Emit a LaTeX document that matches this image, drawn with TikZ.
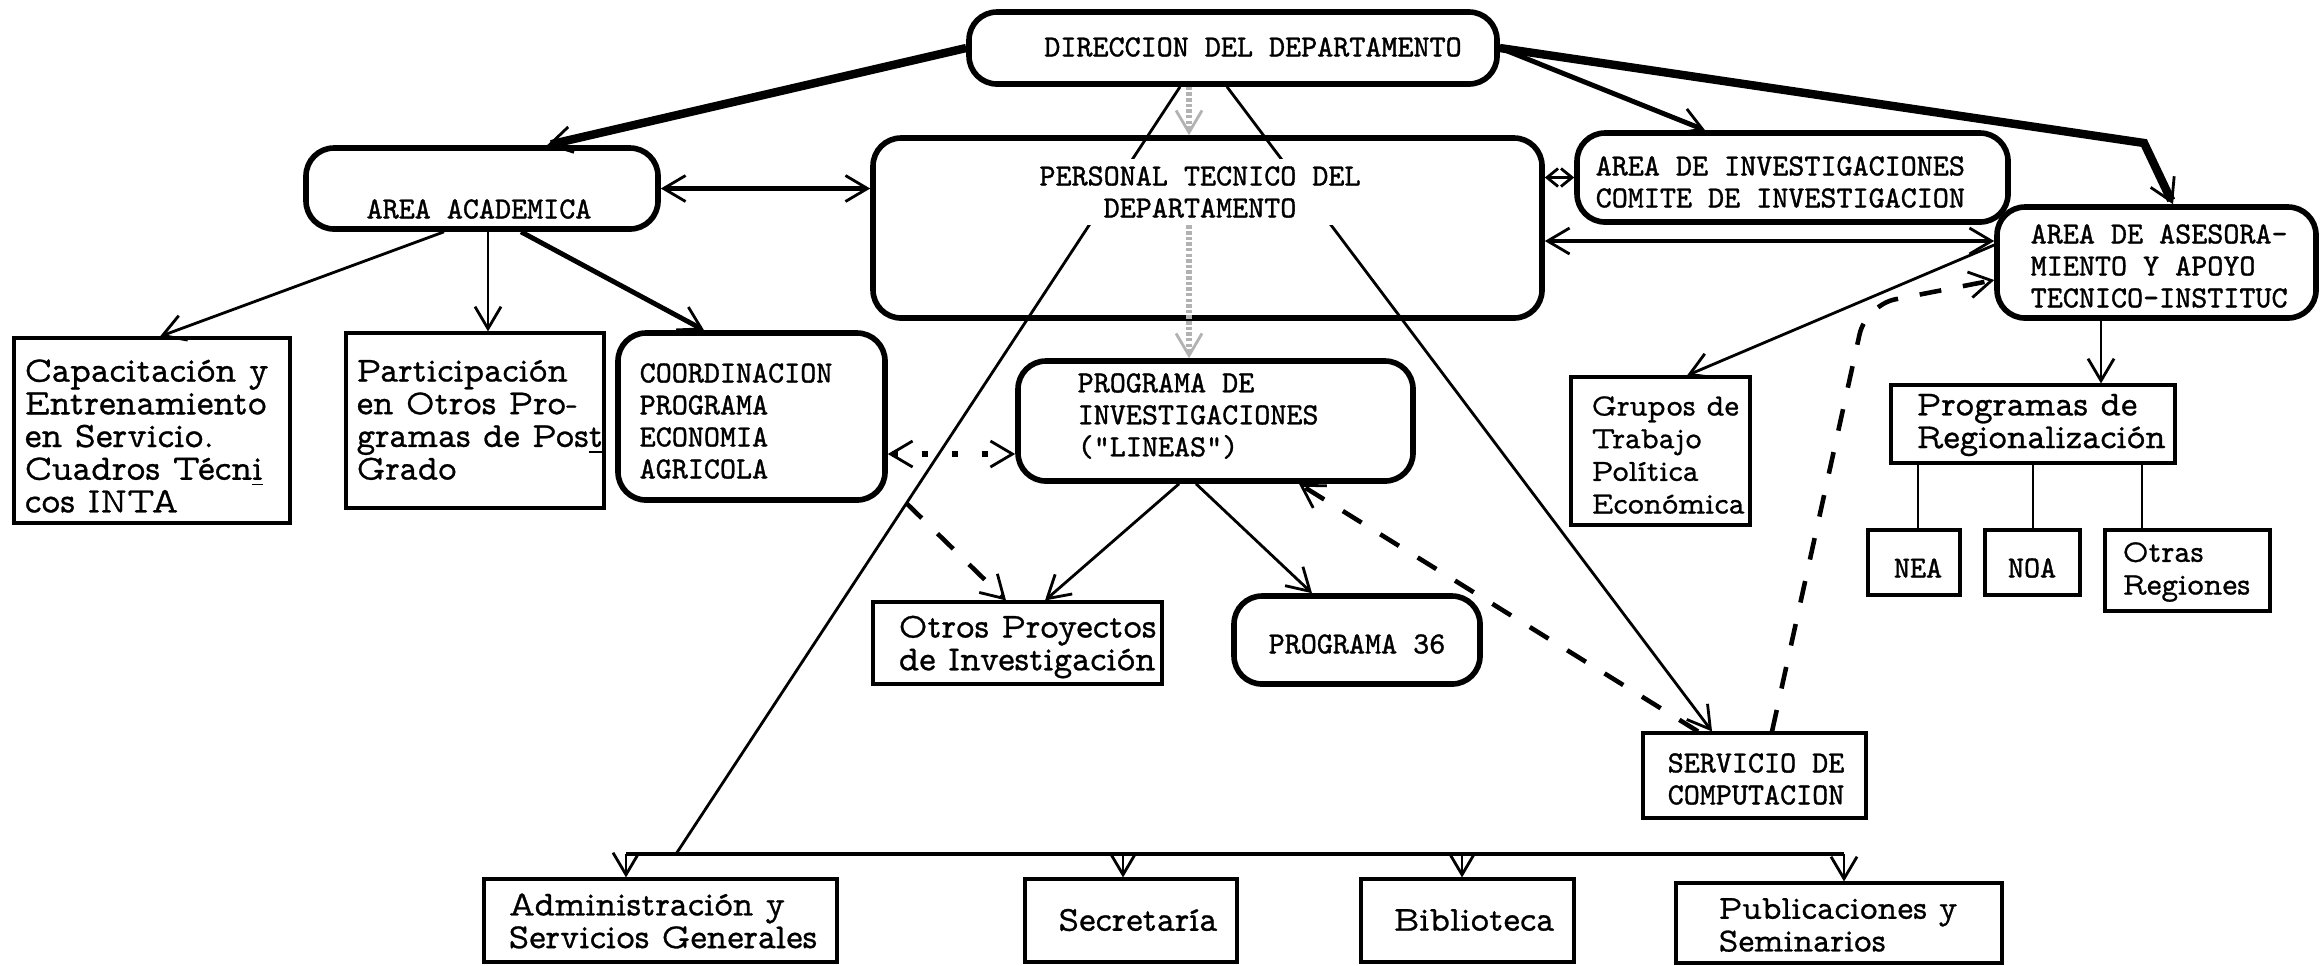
\documentclass[tikz,border=0pt]{standalone}
\usepackage{fontspec}
\newfontfamily\tw{lmmonoprop10-regular}[Extension=.otf, FakeBold=0.8]
\newfontfamily\tm{lmmono10-regular}[Extension=.otf, FakeBold=1.2]
\usetikzlibrary{arrows.meta,fit}
\begin{document}
\begin{tikzpicture}[x=0.1mm,y=-0.1mm,
  rbox/.style={draw, line width=1.6pt, rounded corners=2.8mm, inner sep=0pt},
  sbox/.style={draw, line width=0.9pt, inner sep=0pt},
  upt/.style={font=\fontsize{8.7pt}{9.1pt}\selectfont\tm, inner sep=0pt, align=left},
  lot/.style={font=\fontsize{#1}{9.3pt}\selectfont\tw, inner sep=0pt, align=left},
  lot/.default=10pt,
  tip/.style={-{Straight Barb[length=2.2mm,width=2.6mm,line width=0.8pt]}},
  dtip/.style={{Straight Barb[length=2.2mm,width=2.6mm,line width=0.8pt]}-{Straight Barb[length=2.2mm,width=2.6mm,line width=0.8pt]}},
  stip/.style={{Straight Barb[length=1.1mm,width=1.8mm,line width=0.8pt]}-{Straight Barb[length=1.1mm,width=1.8mm,line width=0.8pt]}},
  thinln/.style={line width=0.8pt},
  midln/.style={line width=1.4pt},
  heavyln/.style={line width=2.4pt},
  dashln/.style={line width=1.3pt, dash pattern=on 2.2mm off 2.2mm},
  dotln/.style={line width=1.5pt, dash pattern=on 0.6mm off 2.4mm},
  grayln/.style={draw=gray!60, line width=1.6pt, dash pattern=on 1pt off 0.6pt},
]
\useasboundingbox (0,0) rectangle (2320,965);
\fill[white] (0,0) rectangle (2320,965);

% ---------- boxes ----------
\node[rbox, fit={(969,12) (1497,84)}] (dir) {};
\node[rbox, fit={(873,138) (1542,318)}] (pers) {};
\node[rbox, fit={(306,148) (658,229)}] (acad) {};
\node[rbox, fit={(1577,133) (2008,222)}] (ainv) {};
\node[rbox, fit={(1997,207) (2316,318)}] (ases) {};
\node[rbox, fit={(618,333) (885,500)}] (coord) {};
\node[rbox, fit={(1018,361) (1413,481)}] (prog) {};
\node[rbox, fit={(1234,596) (1480,684)}] (p36) {};

\node[sbox, fit={(14,338) (290,523)}] (cap) {};
\node[sbox, fit={(346,333) (604,508)}] (part) {};
\node[sbox, fit={(873,602) (1162,684)}] (otros) {};
\node[sbox, fit={(1571,377) (1750,525)}] (grupos) {};
\node[sbox, fit={(1891,385) (2175,463)}] (reg) {};
\node[sbox, fit={(1868,530) (1960,595)}] (nea) {};
\node[sbox, fit={(1985,530) (2080,595)}] (noa) {};
\node[sbox, fit={(2105,530) (2270,611)}] (otras) {};
\node[sbox, fit={(1643,733) (1866,818)}] (serv) {};
\node[sbox, fit={(484,879) (837,962)}] (adm) {};
\node[sbox, fit={(1025,879) (1237,962)}] (secr) {};
\node[sbox, fit={(1361,879) (1574,962)}] (bibl) {};
\node[sbox, fit={(1676,883) (2002,963)}] (publ) {};

% ---------- coordinates ----------
\coordinate (busL) at (626,854);
\coordinate (busJ) at (676,854);
\coordinate (busS) at (1123,854);
\coordinate (busB) at (1462,854);
\coordinate (busR) at (1844,854);
\coordinate (bend1) at (2144,143);
\coordinate (bend2) at (1866,305);

% ---------- connectors behind text ----------
\draw[thinln] (dir.south -| 1180,0) -- (busJ);
\draw[thinln, tip] (dir.south -| 1227,0) -- (serv.north -| 1712,0);

% ---------- texts ----------
\node[upt] (dirt) at (1253,47) {DIRECCION DEL DEPARTAMENTO};
\node[upt, align=center, fill=white, inner sep=2pt] (perst) at (1200,192) {PERSONAL TECNICO DEL\\DEPARTAMENTO};
\node[upt] (acadt) at (479,209) {AREA ACADEMICA};
\node[upt, anchor=west] (ainvt) at (1595,182) {AREA DE INVESTIGACIONES\\COMITE DE INVESTIGACION};
\node[upt, anchor=west] (asest) at (2030,266) {AREA DE ASESORA-\\MIENTO Y APOYO\\TECNICO-INSTITUC};
\node[lot=10.2pt, anchor=west] (capt) at (24,436) {Capacitación y\\Entrenamiento\\en Servicio.\\Cuadros Técn\underline{i}\\cos INTA};
\node[lot, anchor=west] (partt) at (356,420) {Participación\\en Otros Pro-\\gramas de Pos\underline{t}\\Grado};
\node[upt, anchor=west] (coordt) at (639,421) {COORDINACION\\PROGRAMA\\ECONOMIA\\AGRICOLA};
\node[upt, anchor=west] (progt) at (1077,416) {PROGRAMA DE\\INVESTIGACIONES\\("LINEAS")};
\node[lot, anchor=west] (otrost) at (898,647) {Otros Proyectos\\de Investigación};
\node[upt] (p36t) at (1357,644) {PROGRAMA 36};
\node[lot=8.8pt, anchor=west] (grupost) at (1591,455) {Grupos de\\Trabajo\\Política\\Económica};
\node[lot, anchor=west] (regt) at (1916,425) {Programas de\\Regionalización};
\node[upt] (neat) at (1918,568) {NEA};
\node[upt] (noat) at (2032,568) {NOA};
\node[lot=9pt, anchor=west] (otrast) at (2122,572) {Otras\\Regiones};
\node[upt, anchor=west] (servt) at (1667,779) {SERVICIO DE\\COMPUTACION};
\node[lot=10pt, anchor=west] (admt) at (508,921) {Administración y\\Servicios Generales};
\node[lot] (secrt) at (1138,920) {Secretaría};
\node[lot] (biblt) at (1474,920) {Biblioteca};
\node[lot=9.6pt, anchor=west] (publt) at (1718,925) {Publicaciones y\\Seminarios};

% ---------- connectors ----------
\draw[heavyln, tip] (dir.west) -- (acad.north -| 547,0);
\draw[midln, tip] (dir.east) -- (ainv.north -| 1705,0);
\draw[heavyln, tip] (dir.east) -- (bend1) -- (ases.north -| 2173,0);
\draw[grayln, tip] (dir.south -| 1189,0) -- (pers.north -| 1189,0);
\draw[grayln, tip] (perst.south -| 1189,0) -- (prog.north -| 1189,0);

\draw[midln, dtip] (acad.east) -- (pers.west |- acad.east);
\draw[thinln, stip] (pers.east |- ainv.west) -- (ainv.west);
\draw[midln, dtip] (pers.east |- 0,241) -- (ases.west |- 0,241);

\draw[thinln, tip] (acad.south -| 444,0) -- (cap.north -| 160,0);
\draw[thinln, tip] (acad.south -| 488,0) -- (part.north -| 488,0);
\draw[midln, tip] (acad.south -| 521,0) -- (coord.north -| 704,0);

\draw[dotln, dtip] (coord.east |- 0,454) -- (prog.west |- 0,454);
\draw[dashln, tip] (coord.south -| 906,0) -- (otros.north -| 1006,0);
\draw[thinln, tip] (prog.south -| 1179,0) -- (otros.north -| 1045,0);
\draw[thinln, tip] (prog.south -| 1196,0) -- (p36.north -| 1312,0);

\draw[dashln, tip] (serv.north -| 1698,0) -- (prog.south -| 1299,0);
\draw[dashln, tip, rounded corners=3mm] (serv.north -| 1772,0) -- (bend2) -- (ases.west |- 0,280);

\draw[thinln, tip] (ases.west |- 0,245) -- (grupos.north -| 1687,0);
\draw[thinln, tip] (ases.south -| 2101,0) -- (reg.north -| 2101,0);
\draw[thinln] (reg.south -| 1918,0) -- (nea.north -| 1918,0);
\draw[thinln] (reg.south -| 2033,0) -- (noa.north -| 2033,0);
\draw[thinln] (reg.south -| 2142,0) -- (otras.north -| 2142,0);

\draw[midln] (busL) -- (busR);
\draw[thinln, tip] (busL) -- (adm.north -| busL);
\draw[thinln, tip] (busS) -- (secr.north -| busS);
\draw[thinln, tip] (busB) -- (bibl.north -| busB);
\draw[thinln, tip] (busR) -- (publ.north -| busR);
\end{tikzpicture}
\end{document}
